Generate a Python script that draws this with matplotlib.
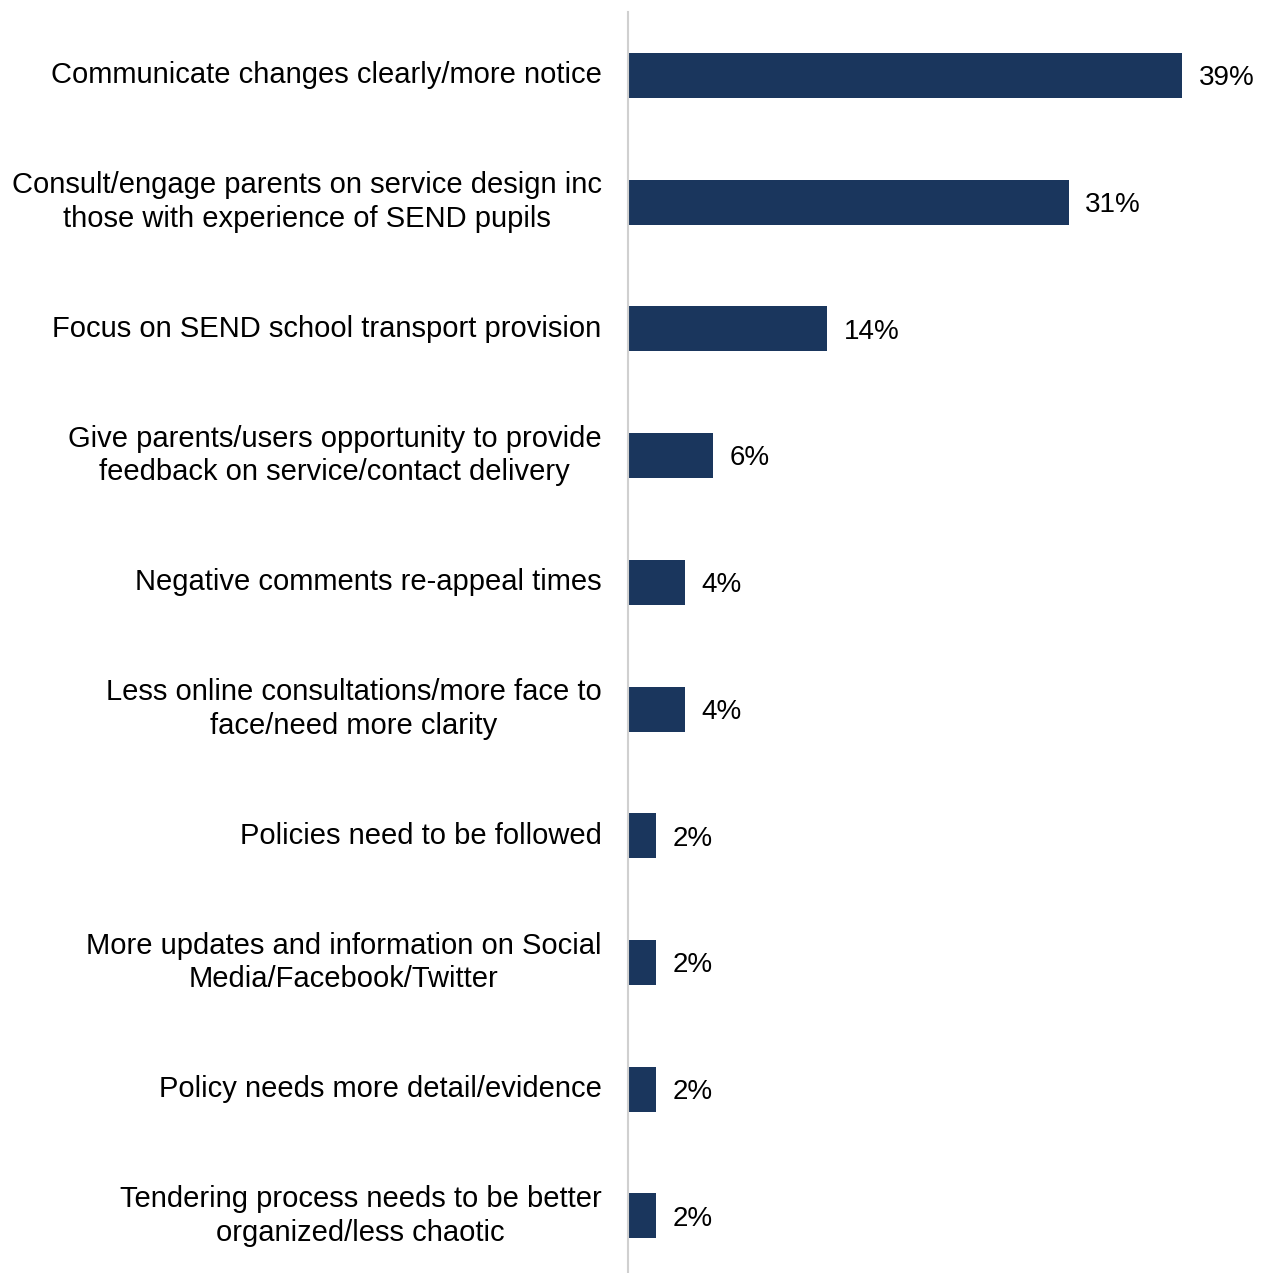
import matplotlib.pyplot as plt

plt.rcParams['font.family'] = ['Liberation Sans', 'DejaVu Sans']

# data
labels = [
    "Communicate changes clearly/more notice",
    "Consult/engage parents on service design inc\nthose with experience of SEND pupils",
    "Focus on SEND school transport provision",
    "Give parents/users opportunity to provide\nfeedback on service/contact delivery",
    "Negative comments re-appeal times",
    "Less online consultations/more face to\nface/need more clarity",
    "Policies need to be followed",
    "More updates and information on Social\nMedia/Facebook/Twitter",
    "Policy needs more detail/evidence",
    "Tendering process needs to be better\norganized/less chaotic",
]
values = [39, 31, 14, 6, 4, 4, 2, 2, 2, 2]

bar_color = '#1a365d'

fig = plt.figure(figsize=(12.66, 12.73), dpi=100)
ax = fig.add_axes([0.496, -0.005, 0.494, 0.9956])

y = list(range(len(values)))
ax.barh(y, values, height=0.355, color=bar_color)
ax.set_ylim(len(values) - 0.5, -0.5)
ax.set_xlim(0, 44)

for yi, v in zip(y, values):
    ax.annotate(f"{v}%", (v, yi), xytext=(12, -2), textcoords='offset points',
                va='center', ha='left', fontsize=20, color='black')

# category labels drawn as text so they can be nudged a bit
trans = ax.get_yaxis_transform()
for yi, lab in zip(y, labels):
    ax.annotate(lab, (0, yi), xycoords=trans, xytext=(-19, 0),
                textcoords='offset points', ha='right', va='center',
                multialignment='center', fontsize=21, linespacing=1.25)

ax.set_yticks([])
ax.set_xticks([])

for s in ['top', 'right', 'bottom']:
    ax.spines[s].set_visible(False)
ax.spines['left'].set_color('#d0d0d0')
ax.spines['left'].set_linewidth(1.5)

fig.savefig('out.png', dpi=100)
